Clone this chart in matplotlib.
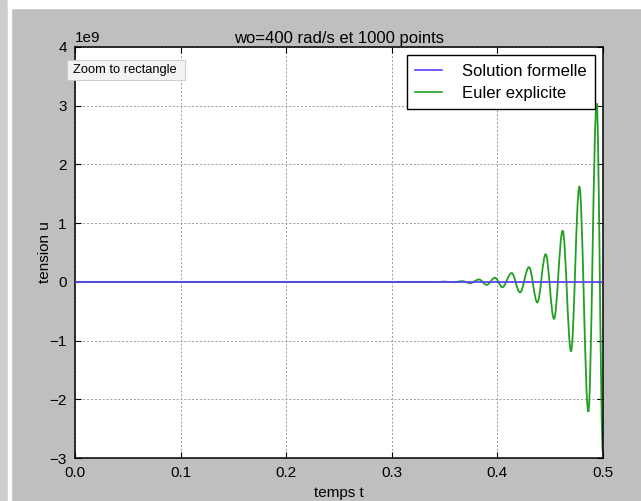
import numpy as np
import matplotlib
matplotlib.use('Agg')
from matplotlib import pyplot as plt
from matplotlib.patches import Rectangle, PathPatch
from matplotlib.path import Path
from matplotlib.lines import Line2D

plt.rcParams['font.family'] = ['Liberation Sans', 'DejaVu Sans']

# solution formelle (stays ~0 at the 1e9 scale)
t_formelle = [0.0, 0.5]
u_formelle = [0.0, 0.0]

# Euler explicite: extrema (units of 1e9 V)
t_euler = [0.0, 0.335, 0.3424, 0.3502, 0.3582, 0.3668, 0.374, 0.3826, 0.3898,
           0.3977, 0.4047, 0.4135, 0.4214, 0.4299, 0.4378, 0.4457, 0.4536,
           0.4618, 0.4697, 0.4776, 0.4861, 0.494, 0.5]
u_euler = [0.0, 0.0, -0.002, 0.004, -0.007, 0.012, -0.022, 0.04, -0.05,
           0.07, -0.09, 0.15, -0.18, 0.25, -0.35, 0.47, -0.63,
           0.87, -1.18, 1.62, -2.21, 3.04, -2.92]

xticks = [0.0, 0.1, 0.2, 0.3, 0.4, 0.5]
yticks = [-3, -2, -1, 0, 1, 2, 3, 4]

blue = '#5a3cff'
green = '#22a022'

W, H = 641, 501
fig = plt.figure(figsize=(W / 100, H / 100), dpi=100, facecolor='#bfbfbf')

# screenshot borders
fig.patches.append(Rectangle((0, 0), 8 / W, 1, transform=fig.transFigure,
                             color='#cdcdcd', zorder=-1))
fig.patches.append(Rectangle((8 / W, 0), 3 / W, 1, transform=fig.transFigure,
                             color='white', zorder=-1))
fig.patches.append(Rectangle((8 / W, 1 - 8 / H), 1, 8 / H, transform=fig.transFigure,
                             color='white', zorder=-1))

ax = fig.add_axes([75 / W, 1 - 458 / H, 528 / W, 411 / H])

ax.plot(t_formelle, np.array(u_formelle) * 1e9, color=blue, lw=1.2, zorder=3)

# smooth curve through the extrema (flat tangents at each extremum)
te = np.array(t_euler)
ue = np.array(u_euler) * 1e9
verts = [(te[0], ue[0])]
codes = [Path.MOVETO]
for i in range(len(te) - 1):
    d = 0.36 * (te[i + 1] - te[i])
    verts += [(te[i] + d, ue[i]), (te[i + 1] - d, ue[i + 1]), (te[i + 1], ue[i + 1])]
    codes += [Path.CURVE4] * 3
ax.add_patch(PathPatch(Path(verts, codes), facecolor='none', edgecolor=green,
                       lw=1.3, zorder=2, clip_on=True))

ax.set_xlim(0, 0.5)
ax.set_ylim(-3e9, 4e9)
ax.set_xticks(xticks)
ax.set_yticks(np.array(yticks) * 1e9)
ax.xaxis.set_major_formatter(matplotlib.ticker.FormatStrFormatter('%.1f'))
ax.yaxis.set_major_formatter(matplotlib.ticker.FuncFormatter(
    lambda v, p: ('%d' % round(v / 1e9)).replace('-', '\u2212')))
ax.text(0.0, 1.005, '1e9', transform=ax.transAxes, fontsize=11, va='bottom', ha='left')

ax.tick_params(direction='in', top=True, right=True, length=4, labelsize=11, pad=6)
ax.grid(True, color='#9a9a9a', linestyle=(0, (2, 2)), linewidth=0.7)
for s in ax.spines.values():
    s.set_linewidth(1.1)

ax.set_title('wo=400 rad/s et 1000 points', fontsize=12, pad=3)
ax.set_xlabel('temps t', fontsize=11, labelpad=4)
ax.set_ylabel('tension u', fontsize=11, labelpad=-2)

handles = [Line2D([], [], color=blue, lw=1.2), Line2D([], [], color=green, lw=1.2)]
leg = ax.legend(handles, ['Solution formelle', 'Euler explicite'],
                loc='upper right', fontsize=12, fancybox=False, framealpha=1,
                edgecolor='black', handlelength=1.6, handletextpad=1.2,
                borderaxespad=0.5, borderpad=0.5, labelspacing=0.45)
leg.get_frame().set_linewidth(1.0)

# tooltip from the screenshot
fig.patches.append(Rectangle((67 / W, 1 - 80 / H), 118 / W, 20 / H,
                             transform=fig.transFigure, facecolor='#f2f2f2',
                             edgecolor='#c8c8c8', lw=0.6, zorder=5))
fig.text(73 / W, 1 - 70 / H, 'Zoom to rectangle', fontsize=9.3, va='center',
         ha='left', zorder=6)

plt.savefig('out.png', dpi=100, facecolor=fig.get_facecolor())
